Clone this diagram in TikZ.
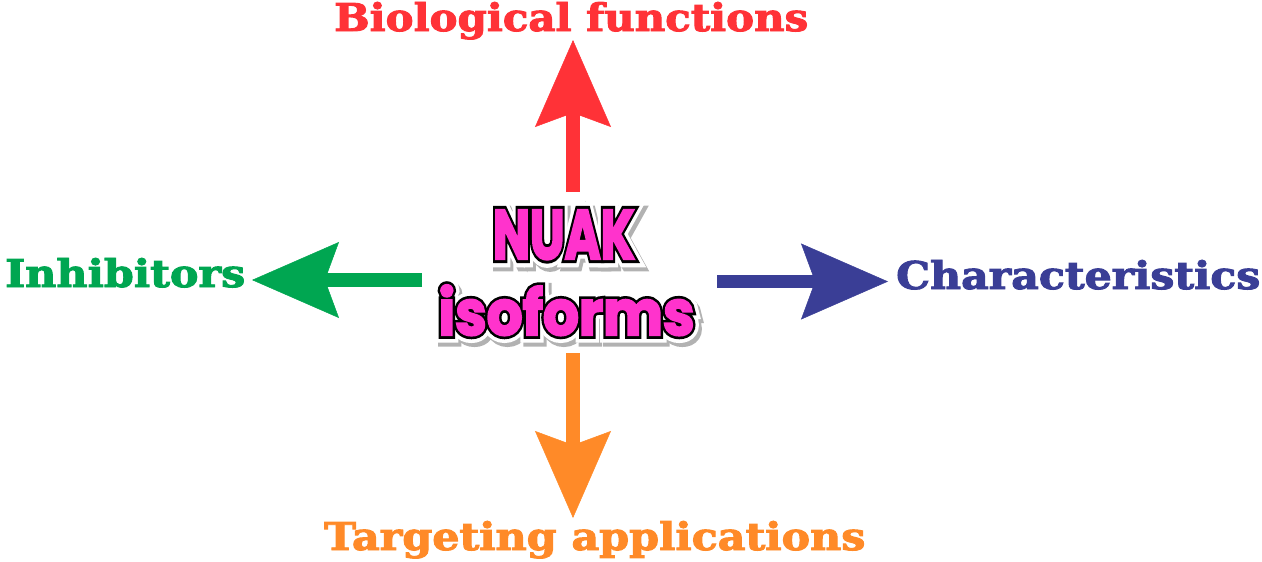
\documentclass[tikz,border=0pt]{standalone}
\usepackage{fontspec}
\usetikzlibrary{arrows.meta}
\newfontfamily\labelfont{DejaVu Serif}[BoldFeatures={FakeBold=2.5}]
\newfontfamily\bubF{Poppins}[BoldFeatures={FakeBold=3.5}]
\newfontfamily\bubK{Poppins}[BoldFeatures={FakeBold=12}]
\newfontfamily\bubW{Poppins}[BoldFeatures={FakeBold=24}]
\definecolor{cred}{RGB}{255,50,55}
\definecolor{cblue}{RGB}{58,62,150}
\definecolor{cgreen}{RGB}{0,166,81}
\definecolor{corange}{RGB}{255,138,40}
\definecolor{cmag}{RGB}{255,51,204}
\newcommand\ctext[4]{\resizebox{#1}{#2}{\fontsize{50}{50}\selectfont#3\bfseries #4}}
\begin{document}
\begin{tikzpicture}[x=1pt,y=-1pt,
  lab/.style={inner sep=0pt,anchor=base west},
  glyph/.style={inner sep=0pt,anchor=base},
  conn/.style={line width=13.5pt,-{Stealth[length=87pt,width=76pt,inset=14pt,line width=0.5pt]}}]
\useasboundingbox (0,0) rectangle (1262,562);
% labels
\node[lab,text=cred] (bio) at (334,31) {\resizebox{474pt}{29pt}{\labelfont\bfseries Biological functions}};
\node[lab,text=cgreen] (inh) at (5,287) {\resizebox{240pt}{29pt}{\labelfont\bfseries Inhibitors}};
\node[lab,text=cblue] (cha) at (896,289) {\resizebox{364pt}{29pt}{\labelfont\bfseries Characteristics}};
\node[lab,text=corange] (tar) at (324,550) {\resizebox{541pt}{29pt}{\labelfont\bfseries Targeting applications}};
% centre text: shadow, white halo, black outline, magenta fill
\node[glyph,text=black!30] (nuaksh) at (567,263) {\ctext{142pt}{49pt}{\bubW}{NUAK}};
\node[glyph,text=black!30] (isosh) at (569.5,339) {\ctext{256pt}{50pt}{\bubW}{isoforms}};
\node[glyph,text=white] (nuakw) at (564,259) {\ctext{142pt}{49pt}{\bubW}{NUAK}};
\node[glyph,text=white] (isow) at (566.5,335) {\ctext{256pt}{50pt}{\bubW}{isoforms}};
\node[glyph,text=black] (nuakk) at (564,259) {\ctext{142pt}{49pt}{\bubK}{NUAK}};
\node[glyph,text=black] (isok) at (566.5,335) {\ctext{256pt}{50pt}{\bubK}{isoforms}};
\node[glyph,text=cmag] (nuak) at (564,259) {\ctext{142pt}{49pt}{\bubF}{NUAK}};
\node[glyph,text=cmag] (iso) at (566.5,335) {\ctext{256pt}{50pt}{\bubF}{isoforms}};
% arrow ends
\coordinate (rs) at (573,192); \coordinate (re) at (573,40);
\coordinate (bs) at (717,281.5); \coordinate (be) at (888,281.5);
\coordinate (gs) at (422,280); \coordinate (ge) at (252,280);
\coordinate (os) at (573,353); \coordinate (oe) at (573,518);
\draw[conn,cred] (rs) -- (re);
\draw[conn,cblue] (bs) -- (be);
\draw[conn,cgreen] (gs) -- (ge);
\draw[conn,corange] (os) -- (oe);
\end{tikzpicture}
\end{document}
